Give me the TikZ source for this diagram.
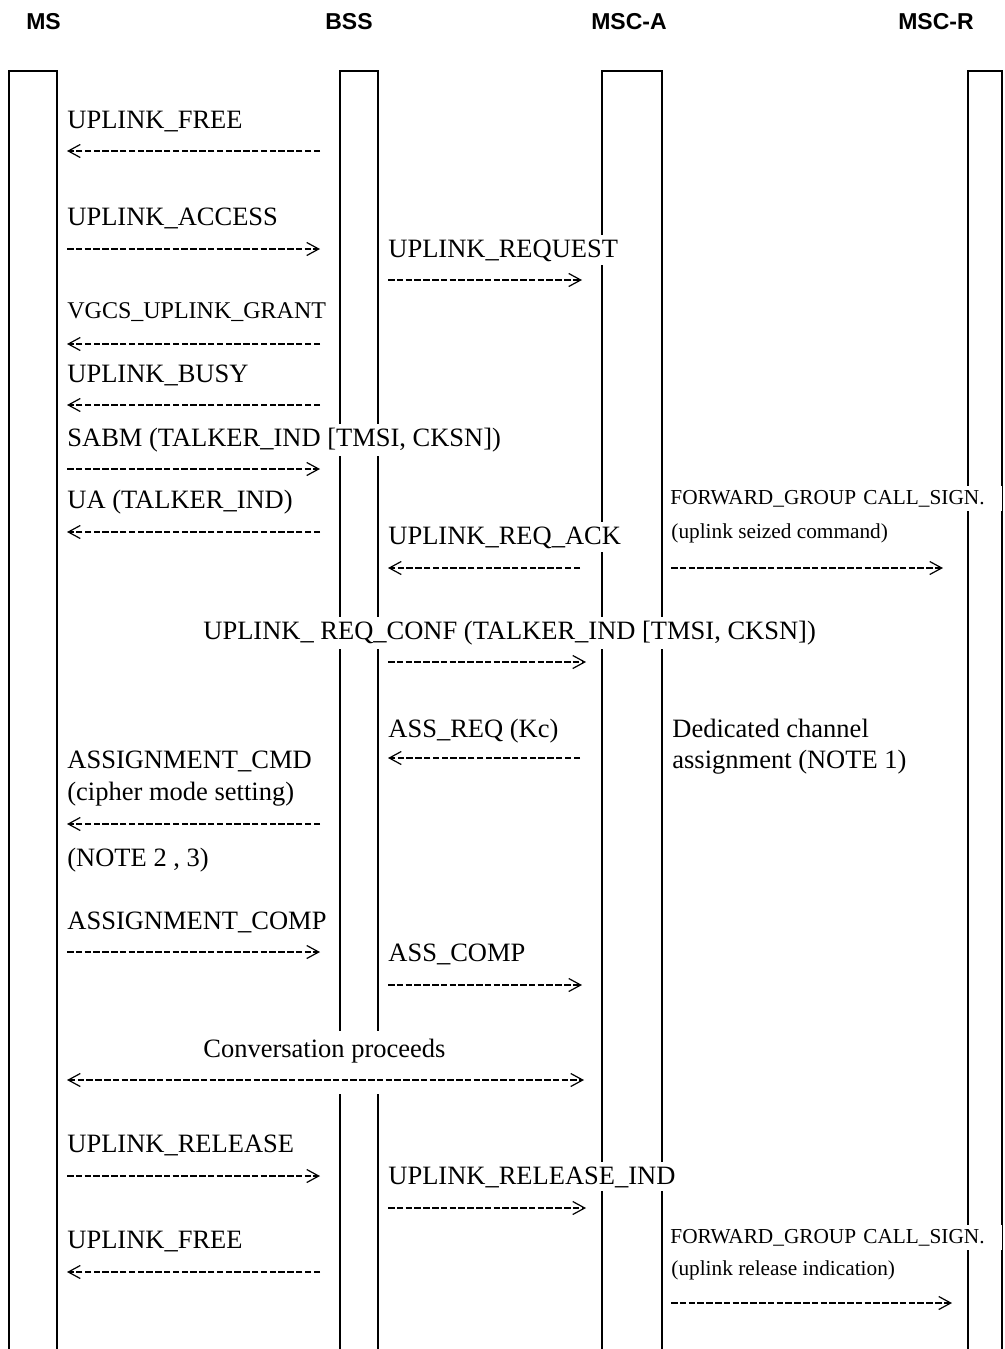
\documentclass[tikz,border=0pt]{standalone}
\usepackage{fontspec}
\setmainfont{Liberation Serif}
\newfontfamily\headfont{Liberation Sans}
\usetikzlibrary{arrows.meta}

\begin{document}
\begin{tikzpicture}[
    x=0.5pt, y=-0.5pt,
    entity/.style={anchor=base, inner sep=0pt, font=\headfont\bfseries\fontsize{11.5pt}{13pt}\selectfont},
    life/.style={line width=1pt},
    msg/.style={anchor=base west, fill=white, inner xsep=1pt, inner ysep=2pt, font=\fontsize{13.25pt}{15pt}\selectfont},
    smallmsg/.style={msg, font=\fontsize{10.65pt}{12pt}\selectfont},
    grantmsg/.style={msg, font=\fontsize{12pt}{14pt}\selectfont},
    flow/.style={line width=0.6pt, dash pattern=on 3.25pt off 1.15pt, -{Straight Barb[length=6pt, width=6.5pt]}},
    flowboth/.style={flow, {Straight Barb[length=6pt, width=6.5pt]}-{Straight Barb[length=6pt, width=6.5pt]}}
]
\useasboundingbox (0,0) rectangle (1005,1349);

% Entities
\node[entity] (ms) at (43.5,29) {MS};
\node[entity] (bss) at (349,29) {BSS};
\node[entity] (msca) at (629,29) {MSC-A};
\node[entity] (mscr) at (936,29) {MSC-R};

% Lifelines
\draw[life] (9,1349) -- (9,71) -- (57,71) -- (57,1349);
\draw[life] (340,1349) -- (340,71) -- (378,71) -- (378,1349);
\draw[life] (602,1349) -- (602,71) -- (662,71) -- (662,1349);
\draw[life] (968,1349) -- (968,71) -- (1002,71) -- (1002,1349);

% Messages
\node[msg] (ulfree) at (65,128) {UPLINK\_FREE};
\node[msg] (ulacc) at (65,225) {UPLINK\_ACCESS};
\node[msg] (ulreq) at (386,257) {UPLINK\_REQUEST};
\node[grantmsg] (grant) at (65,318) {VGCS\_UPLINK\_GRANT};
\node[msg] (busy) at (65,382) {UPLINK\_BUSY};
\node[msg] (sabm) at (65,446) {SABM (TALKER\_IND [TMSI, CKSN])};
\node[msg] (ua) at (65,508) {UA (TALKER\_IND)};
\node[msg] (reqack) at (386,544) {UPLINK\_REQ\_ACK};
\node[smallmsg, text width=165pt, align=left] (fwd1) at (668,504) {FORWARD\_GROUP CALL\_SIGN.};
\node[smallmsg] (seized) at (669,538) {(uplink seized command)};
\node[msg] (reqconf) at (201,639) {UPLINK\_ REQ\_CONF (TALKER\_IND [TMSI, CKSN])};
\node[msg] (assreq) at (386,737) {ASS\_REQ (Kc)};
\node[msg] (dedic) at (670,737) {Dedicated channel};
\node[msg] (dedic2) at (670,768) {assignment (NOTE 1)};
\node[msg] (asscmd) at (65,768) {ASSIGNMENT\_CMD};
\node[msg] (cipher) at (65,800) {(cipher mode setting)};
\node[msg] (note23) at (65,866) {(NOTE 2 , 3)};
\node[msg] (asscomp) at (65,929) {ASSIGNMENT\_COMP};
\node[msg] (asscomp2) at (386,961) {ASS\_COMP};
\node[msg, inner ysep=4pt] (conv) at (201,1057) {Conversation proceeds};
\node[msg] (ulrel) at (65,1152) {UPLINK\_RELEASE};
\node[msg] (relind) at (386,1184) {UPLINK\_RELEASE\_IND};
\node[msg] (ulfree2) at (65,1248) {UPLINK\_FREE};
\node[smallmsg, text width=165pt, align=left] (fwd2) at (668,1243) {FORWARD\_GROUP CALL\_SIGN.};
\node[smallmsg] (relindic) at (669,1275) {(uplink release indication)};

% Arrow ends
\coordinate (ulfree-r) at (320,151); \coordinate (ulfree-l) at (67,151);
\coordinate (ulacc-l) at (67,249); \coordinate (ulacc-r) at (320,249);
\coordinate (ulreq-l) at (388,280); \coordinate (ulreq-r) at (582,280);
\coordinate (grant-r) at (320,344); \coordinate (grant-l) at (67,344);
\coordinate (busy-r) at (320,405); \coordinate (busy-l) at (67,405);
\coordinate (sabm-l) at (67,469); \coordinate (sabm-r) at (320,469);
\coordinate (ua-r) at (320,532); \coordinate (ua-l) at (67,532);
\coordinate (reqack-r) at (580,568); \coordinate (reqack-l) at (388,568);
\coordinate (fwd1-l) at (671,568); \coordinate (fwd1-r) at (943,568);
\coordinate (reqconf-l) at (388,662); \coordinate (reqconf-r) at (586,662);
\coordinate (assreq-r) at (580,758); \coordinate (assreq-l) at (388,758);
\coordinate (asscmd-r) at (320,824); \coordinate (asscmd-l) at (67,824);
\coordinate (asscomp-l) at (67,952); \coordinate (asscomp-r) at (320,952);
\coordinate (asscomp2-l) at (388,985); \coordinate (asscomp2-r) at (582,985);
\coordinate (conv-l) at (67,1080); \coordinate (conv-r) at (584,1080);
\coordinate (ulrel-l) at (67,1176); \coordinate (ulrel-r) at (320,1176);
\coordinate (relind-l) at (388,1208); \coordinate (relind-r) at (586,1208);
\coordinate (ulfree2-r) at (320,1272); \coordinate (ulfree2-l) at (67,1272);
\coordinate (fwd2-l) at (671,1303); \coordinate (fwd2-r) at (952,1303);

% Arrows
\draw[flow] (ulfree-r) -- (ulfree-l);
\draw[flow] (ulacc-l) -- (ulacc-r);
\draw[flow] (ulreq-l) -- (ulreq-r);
\draw[flow] (grant-r) -- (grant-l);
\draw[flow] (busy-r) -- (busy-l);
\draw[flow] (sabm-l) -- (sabm-r);
\draw[flow] (ua-r) -- (ua-l);
\draw[flow] (reqack-r) -- (reqack-l);
\draw[flow] (fwd1-l) -- (fwd1-r);
\draw[flow] (reqconf-l) -- (reqconf-r);
\draw[flow] (assreq-r) -- (assreq-l);
\draw[flow] (asscmd-r) -- (asscmd-l);
\draw[flow] (asscomp-l) -- (asscomp-r);
\draw[flow] (asscomp2-l) -- (asscomp2-r);
\draw[flowboth, preaction={draw=white, solid, line width=14pt, -}] (conv-l) -- (conv-r);
\draw[flow] (ulrel-l) -- (ulrel-r);
\draw[flow] (relind-l) -- (relind-r);
\draw[flow] (ulfree2-r) -- (ulfree2-l);
\draw[flow] (fwd2-l) -- (fwd2-r);

\end{tikzpicture}
\end{document}
